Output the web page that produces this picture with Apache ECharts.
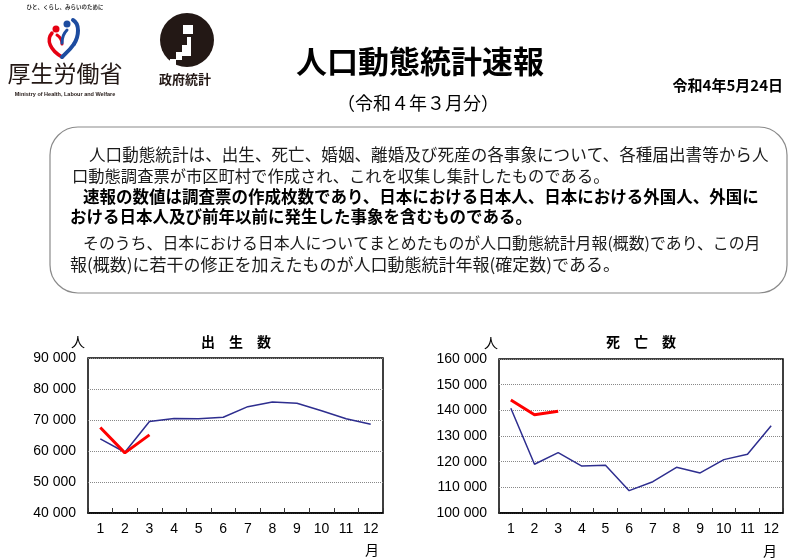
<!DOCTYPE html>
<html>
<head>
<meta charset="utf-8">
<script src="https://cdn.jsdelivr.net/npm/echarts@6/dist/echarts.min.js"></script>
<style>
html,body{margin:0;padding:0;background:#fff;}
#c{width:800px;height:559px;}
</style>
</head>
<body>
<div id="c"></div>
<script>
// ---- data ----
const months = ['1','2','3','4','5','6','7','8','9','10','11','12'];
const birthsPrev = [63900, 59600, 69500, 70500, 70400, 70900, 74300, 75800, 75400, 73000, 70400, 68600];
const birthsCur = [67600, 59400, 65200];
const deathsPrev = [140800, 119000, 123500, 118300, 118600, 108700, 112200, 117800, 115600, 120800, 122900, 134000];
const deathsCur = [144000, 138300, 139600];
const birthsAxis = [40000, 90000, 10000];   // min, max, interval
const deathsAxis = [100000, 160000, 10000];

const titleMain = '人口動態統計速報';
const titleSub = '（令和４年３月分）';
const dateText = '令和4年5月24日';
const chartTitles = ['出　生　数', '死　亡　数'];
const boxLines = [
  '人口動態統計は、出生、死亡、婚姻、離婚及び死産の各事象について、各種届出書等から人',
  '口動態調査票が市区町村で作成され、これを収集し集計したものである。',
  '速報の数値は調査票の作成枚数であり、日本における日本人、日本における外国人、外国に',
  'おける日本人及び前年以前に発生した事象を含むものである。',
  'そのうち、日本における日本人についてまとめたものが人口動態統計月報(概数)であり、この月',
  '報(概数)に若干の修正を加えたものが人口動態統計年報(確定数)である。'
];
const boxBold = [false, false, true, true, false, false];

// ---- layout ----
const JP = '"Noto Sans CJK JP"';
const NUM = '"Liberation Sans", Arial, sans-serif';
const lineX = [89, 72, 83, 70, 83, 70];
const lineY = [155, 176, 197, 217, 243, 265];
const lineSize = [16.6, 16.3, 16.5, 16.5, 15.9, 17];

function fmt(v) { return String(v).replace(/\B(?=(\d{3})+(?!\d))/g, ' '); }

function txt(text, x, y, font, align, fill) {
  return {
    type: 'text', x: x, y: y, z: 10,
    style: {
      text: text, font: font, fill: fill || '#000',
      textAlign: align || 'left', textVerticalAlign: 'middle',
      align: align || 'left', verticalAlign: 'middle'
    }
  };
}
function curve(p, color, w) {
  return {
    type: 'bezierCurve', z: 5,
    shape: { x1: p[0], y1: p[1], cpx1: p[2], cpy1: p[3], cpx2: p[4], cpy2: p[5], x2: p[6], y2: p[7] },
    style: { fill: null, stroke: color, lineWidth: w, lineCap: 'round' }
  };
}

const graphics = [];
// rounded box
graphics.push({
  type: 'rect', z: 1,
  shape: { x: 50, y: 127, width: 737, height: 166, r: 28 },
  style: { fill: '#fff', stroke: '#8a8a8a', lineWidth: 1.2 }
});
boxLines.forEach((t, i) => {
  graphics.push(txt(t, lineX[i], lineY[i],
    (boxBold[i] ? 'bold ' : '') + lineSize[i] + 'px ' + JP, 'left', boxBold[i] ? '#000' : '#1a1a1a'));
});

// headers
graphics.push(txt(titleMain, 420, 61, 'bold 31px ' + JP, 'center'));
graphics.push(txt(titleSub, 418, 103, '18px ' + JP, 'center'));
graphics.push(txt(dateText, 783, 85, 'bold 15px ' + JP, 'right'));

// MHLW logo
graphics.push(txt('ひと、くらし、みらいのために', 65, 7, 'bold 5.5px ' + JP, 'center', '#333'));
graphics.push(curve([52, 33, 46, 40, 50, 50, 62, 57], '#e60012', 3.5));
graphics.push(curve([57, 35, 60, 37, 62, 40, 62, 44], '#e60012', 3));
graphics.push(curve([73, 20, 80, 24, 79, 36, 74, 44], '#1d4ca0', 4));
graphics.push(curve([74, 44, 70, 50, 66, 53, 62, 57], '#1d4ca0', 4));
graphics.push(curve([67, 30, 64, 33, 62, 38, 62, 43], '#1d4ca0', 3));
graphics.push({ type: 'circle', z: 5, shape: { cx: 56, cy: 29, r: 3.5 }, style: { fill: '#e60012' } });
graphics.push({ type: 'circle', z: 5, shape: { cx: 67, cy: 24, r: 3.5 }, style: { fill: '#1d4ca0' } });
graphics.push(txt('厚生労働省', 65, 73, '23px ' + JP, 'center', '#231815'));
graphics.push(txt('Ministry of Health, Labour and Welfare', 65, 94, 'bold 5.5px ' + NUM, 'center', '#231815'));

// Government statistics logo
graphics.push({ type: 'circle', z: 5, shape: { cx: 187, cy: 40, r: 27 }, style: { fill: '#231815' } });
[[170,59,6,6],[176,52,6,8],[182,45,5,11],[187,37,4,19],[183,25,10,9]].forEach(r => {
  graphics.push({ type: 'rect', z: 6, shape: { x: r[0], y: r[1], width: r[2], height: r[3] }, style: { fill: '#fff' } });
});
graphics.push(txt('政府統計', 185, 79, 'bold 13px ' + JP, 'center', '#231815'));

// chart titles & units
graphics.push(txt(chartTitles[0], 236, 342, 'bold 14px ' + JP, 'center'));
graphics.push(txt(chartTitles[1], 641, 342, 'bold 14px ' + JP, 'center'));
graphics.push(txt('人', 78, 342, '14px ' + JP, 'center'));
graphics.push(txt('人', 491, 343, '14px ' + JP, 'center'));
graphics.push(txt('月', 372, 550, '14px ' + JP, 'center'));
graphics.push(txt('月', 770, 551, '14px ' + JP, 'center'));

function xAxis(gi) {
  return {
    type: 'category', gridIndex: gi, data: months, boundaryGap: true,
    axisLine: { show: true, lineStyle: { color: '#000', width: 1.5 } },
    axisTick: { show: true, inside: true, length: 5, interval: 0, lineStyle: { color: '#333' } },
    axisLabel: { color: '#000', fontSize: 14, fontFamily: NUM, margin: 9, interval: 0 },
    splitLine: { show: false }
  };
}
function yAxis(gi, ax) {
  return {
    type: 'value', gridIndex: gi, min: ax[0], max: ax[1], interval: ax[2],
    axisLine: { show: false }, axisTick: { show: false },
    axisLabel: { color: '#000', fontSize: 14, fontFamily: NUM, margin: 12, formatter: fmt },
    splitLine: { show: true, lineStyle: { color: '#888', type: 'dotted', width: 1 } }
  };
}
function line(gi, data, color, width, z) {
  return {
    type: 'line', xAxisIndex: gi, yAxisIndex: gi, data: data, symbol: 'none',
    lineStyle: { color: color, width: width }, itemStyle: { color: color },
    animation: false, z: z
  };
}

const chart = echarts.init(document.getElementById('c'), null, { renderer: 'canvas' });
chart.setOption({
  animation: false,
  backgroundColor: '#fff',
  grid: [
    { left: 88, top: 358, width: 295, height: 155, show: true, borderColor: '#000', borderWidth: 1.5, containLabel: false },
    { left: 499, top: 359, width: 284, height: 154, show: true, borderColor: '#000', borderWidth: 1.5, containLabel: false }
  ],
  xAxis: [xAxis(0), xAxis(1)],
  yAxis: [yAxis(0, birthsAxis), yAxis(1, deathsAxis)],
  series: [
    line(0, birthsPrev, '#2e2e8f', 1.5, 2),
    line(0, birthsCur, '#ff0000', 3, 3),
    line(1, deathsPrev, '#2e2e8f', 1.5, 2),
    line(1, deathsCur, '#ff0000', 3, 3)
  ],
  graphic: graphics
});
</script>
</body>
</html>
